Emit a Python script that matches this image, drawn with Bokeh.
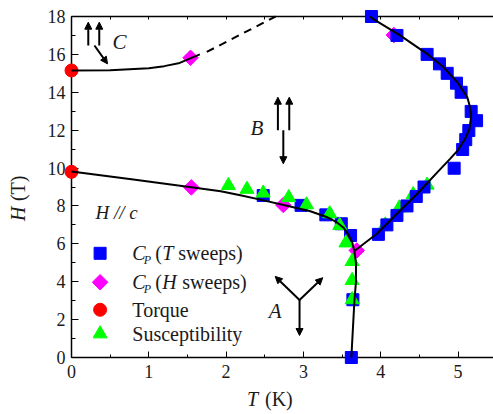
import numpy as np
from bokeh.plotting import figure
from bokeh.models import Range1d, LinearAxis, SingleIntervalTicker, FixedTicker, Arrow, NormalHead, ColumnDataSource
from bokeh.core.properties import value
from bokeh.embed import file_html
from bokeh.resources import INLINE

# ---------------- data (T in K, H in T) ----------------
cpT_T = [3.62, 3.64, 2.48, 2.97, 3.29, 3.49, 3.61,
         3.97, 4.08, 4.21, 4.34, 4.46, 4.56, 4.95, 5.06, 5.10, 5.14, 5.24, 5.17,
         5.04, 4.98, 4.86, 4.76, 4.60, 4.21, 3.88]
cpT_H = [0.0, 3.05, 8.55, 8.03, 7.53, 7.06, 6.44,
         6.50, 7.00, 7.50, 8.00, 8.50, 9.00, 9.99, 10.98, 11.50, 11.98, 12.50, 12.99,
         14.00, 14.48, 15.00, 15.50, 16.00, 17.00, 18.00]

cpH_T = [1.54, 1.55, 2.74, 3.69, 4.17]
cpH_H = [15.82, 8.98, 8.05, 5.65, 17.02]

torque_T = [0.0, 0.0]
torque_H = [15.15, 9.80]

sus_left_T = [2.03, 2.27, 2.48, 2.81, 3.04, 3.34, 3.47, 3.55, 3.63, 3.63, 3.63]
sus_left_H = [9.08, 8.88, 8.68, 8.44, 8.06, 7.59, 6.97, 6.05, 5.07, 4.07, 3.05]
sus_right_T = [4.06, 4.24, 4.42, 4.60]
sus_right_H = [7.00, 7.90, 8.60, 9.10]

# phase boundaries (guides to the eye)
bnd_low_T = [0.0, 0.8, 1.55, 1.93, 2.2, 2.5, 2.8, 3.09, 3.3, 3.43, 3.52, 3.58, 3.63, 3.66, 3.68, 3.68, 3.66, 3.62]
bnd_low_H = [9.82, 9.4, 8.99, 8.78, 8.55, 8.28, 8.0, 7.72, 7.42, 7.14, 6.85, 6.5, 6.1, 5.6, 5.0, 4.0, 3.0, 0.0]
bnd_right_T = [3.66, 3.95, 4.21, 4.45, 4.6, 4.75, 4.9, 5.0, 5.1, 5.15, 5.17, 5.15, 5.12, 4.99, 4.81, 4.6, 4.25, 3.89, 3.86]
bnd_right_H = [5.62, 6.53, 7.59, 8.55, 9.2, 9.85, 10.5, 10.95, 11.6, 12.1, 12.75, 13.3, 13.74, 14.54, 15.33, 16.03, 17.0, 17.9, 18.0]
bnd_C_T = [0.0, 0.5, 1.0, 1.2, 1.4, 1.66]
bnd_C_H = [15.15, 15.16, 15.27, 15.38, 15.55, 16.0]
bnd_Cdash_T = [1.75, 2.64]
bnd_Cdash_H = [16.13, 18.0]

# spin arrows (start T, start H, end T, end H)
arr_T0 = [0.217, 0.359, 0.297, 2.67, 2.817, 2.74, 2.95, 2.95, 2.95]
arr_H0 = [16.47, 16.47, 16.47, 11.99, 11.99, 11.99, 3.04, 3.04, 3.04]
arr_T1 = [0.217, 0.359, 0.466, 2.67, 2.817, 2.74, 2.635, 3.25, 2.95]
arr_H1 = [17.70, 17.70, 15.50, 13.74, 13.74, 10.23, 4.28, 4.21, 1.16]

phase_names = ["A", "B", "C"]
phase_T = [2.635, 2.40, 0.62]
phase_H = [2.43, 12.12, 16.65]

legend_texts = ["Torque", "Susceptibility"]
top_minor_ticks = [0, 0.5, 1, 1.5, 2, 2.5, 3, 3.5, 4, 4.5, 5]

# ---------------- figure ----------------
FONT = value("Liberation Serif")
TXT = "#1a1a1a"

p = figure(width=493, height=414, x_range=Range1d(0, 5.459), y_range=Range1d(0, 18),
           output_backend="svg", toolbar_location=None,
           min_border_left=71, min_border_right=0, min_border_top=16, min_border_bottom=57)
p.outline_line_color = None
p.xgrid.visible = False
p.ygrid.visible = False
p.background_fill_color = "white"
p.border_fill_color = "white"

def style_axis(ax):
    ax.axis_line_color = "black"
    ax.axis_line_width = 1.5
    ax.major_tick_in = 6
    ax.major_tick_out = 0
    ax.minor_tick_in = 3
    ax.minor_tick_out = 0
    ax.major_tick_line_color = "black"
    ax.minor_tick_line_color = "black"
    ax.major_label_text_font = "Liberation Serif"
    ax.major_label_text_font_size = "18px"
    ax.major_label_text_color = TXT

xa = p.xaxis[0]
xa.ticker = SingleIntervalTicker(interval=1, num_minor_ticks=2)
style_axis(xa)
xa.major_label_standoff = 7
ya = p.yaxis[0]
ya.ticker = SingleIntervalTicker(interval=2, num_minor_ticks=2)
style_axis(ya)
ya.major_label_standoff = 6
ya.major_tick_in = 7
ya.minor_tick_in = 4

top = LinearAxis(ticker=FixedTicker(ticks=[], minor_ticks=top_minor_ticks))
style_axis(top)
top.minor_tick_in = 3
p.add_layout(top, "above")

LV = "annotation"
# markers
p.scatter(sus_right_T, sus_right_H, marker="triangle", size=14, color="#00ff00", level=LV)
p.scatter(cpH_T, cpH_H, marker="square", angle=np.pi / 4, size=11, color="#ff00ff", level=LV)
p.scatter(cpT_T, cpT_H, marker="square", size=12, color="#0000ff", level=LV)
p.scatter(sus_left_T, sus_left_H, marker="triangle", size=14, color="#00ff00", level=LV)
p.scatter(torque_T, torque_H, marker="circle", size=13, color="#ff0000", level=LV)

# boundaries
p.line(bnd_low_T, bnd_low_H, line_width=2, color="black", level=LV)
p.line(bnd_right_T, bnd_right_H, line_width=2, color="black", level=LV)
p.line(bnd_C_T, bnd_C_H, line_width=2, color="black", level=LV)
p.line(bnd_Cdash_T, bnd_Cdash_H, line_width=2, color="black", line_dash="8 6", level=LV)

# arrows
arr_src = ColumnDataSource(dict(x0=arr_T0, y0=arr_H0, x1=arr_T1, y1=arr_H1))
p.add_layout(Arrow(source=arr_src, x_start="x0", y_start="y0", x_end="x1", y_end="y1",
                   line_width=2, line_color="black",
                   end=NormalHead(size=7, fill_color="black", line_color="black", line_width=1)))

# phase labels
p.text(phase_T, phase_H, text=phase_names, text_font=FONT, text_font_style="italic",
       text_font_size="21px", text_align="center", text_baseline="middle", text_color=TXT, level=LV)
p.text([0.31], [7.65], text=["H // c"], text_font=FONT, text_font_style="italic",
       text_font_size="19px", text_align="left", text_baseline="middle", text_color=TXT, level=LV)

# legend (manual, to allow subscripts)
key_T = 0.37
txt_T = 0.787
rows_H = [5.5, 3.97, 2.52, 1.25]
p.scatter([key_T], [rows_H[0]], marker="square", size=12, color="#0000ff", level=LV)
p.scatter([key_T], [rows_H[1]], marker="square", angle=np.pi / 4, size=11, color="#ff00ff", level=LV)
p.scatter([key_T], [rows_H[2]], marker="circle", size=13, color="#ff0000", level=LV)
p.scatter([key_T], [rows_H[3]], marker="triangle", size=14, color="#00ff00", level=LV)

def piece(x, y, t, xo=0, yo=0, italic=False, size="20px", angle=0.0, align="left"):
    p.text([x], [y], text=[t], x_offset=xo, y_offset=yo, angle=angle,
           text_font=FONT, text_font_style="italic" if italic else "normal",
           text_font_size=size, text_align=align, text_baseline="middle",
           text_color=TXT, level=LV)

for h, var, sw in [(rows_H[0], "T", 46), (rows_H[1], "H", 50)]:
    piece(txt_T, h, "C", italic=True)
    piece(txt_T, h, "P", xo=11.5, yo=7, italic=True, size="12px")
    piece(txt_T, h, "(", xo=23)
    piece(txt_T, h, var, xo=30, italic=True)
    piece(txt_T, h, "sweeps)", xo=sw)
piece(txt_T, rows_H[2], legend_texts[0])
piece(txt_T, rows_H[3], legend_texts[1])

# axis titles
piece(2.27, -2.2, "T", italic=True)
piece(2.27, -2.2, "(K)", xo=18)
piece(-0.69, 7.2, "H", italic=True, angle=np.pi / 2)
piece(-0.69, 7.2, "(T)", yo=-20, angle=np.pi / 2)

open("out.html", "w").write(file_html(p, INLINE))
